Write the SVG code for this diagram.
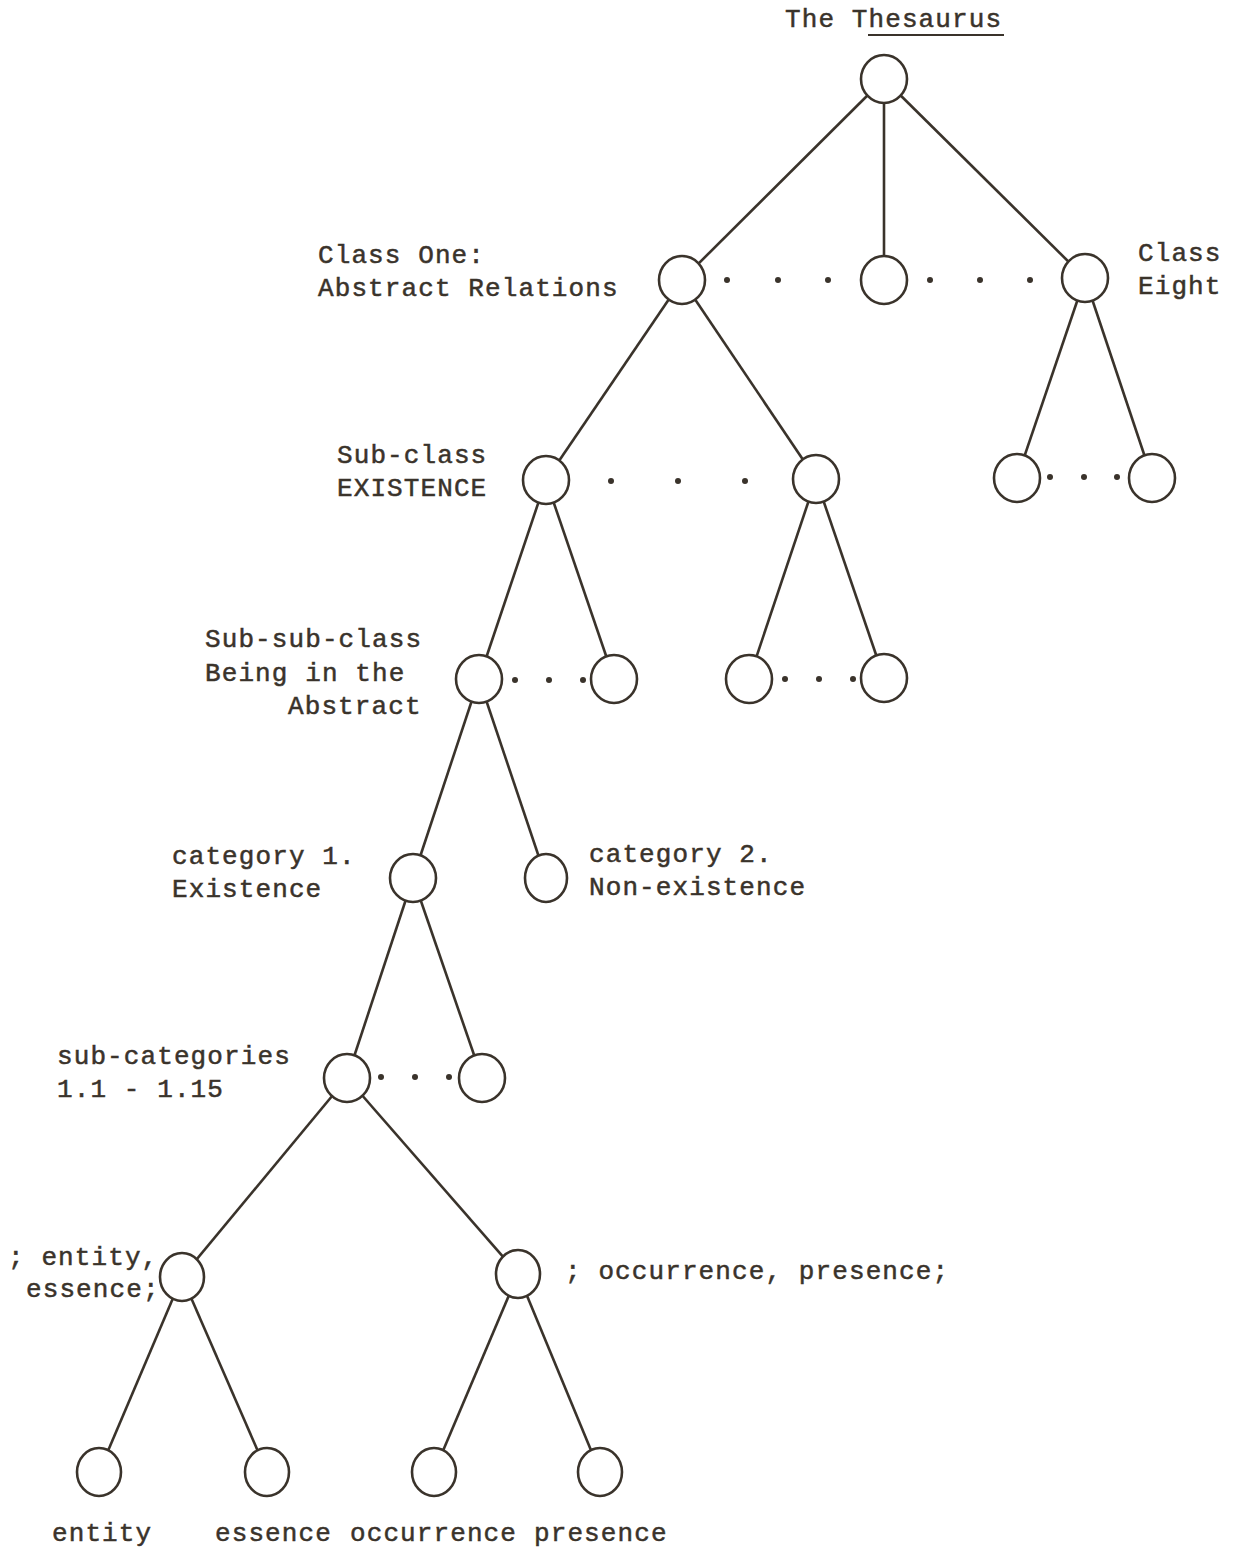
<svg xmlns="http://www.w3.org/2000/svg" width="1235" height="1552" viewBox="0 0 1235 1552">
<style>
.bg{fill:#ffffff}
.edge{stroke:#3a332b;stroke-width:2.6;fill:none}
.node{fill:#ffffff;stroke:#3a332b;stroke-width:2.6}
.dot{fill:#3a332b}
.t{font-family:"Liberation Mono","DejaVu Sans Mono",monospace;font-size:26px;letter-spacing:1.1px;fill:#3a332b;stroke:#3a332b;stroke-width:0.5}
.ul{stroke:#3a332b;stroke-width:2}
</style>
<rect class="bg" x="0" y="0" width="1235" height="1552"/>
<g id="title">
<text class="t" x="785" y="27">The Thesaurus</text>
<line class="ul" x1="868" y1="35" x2="1004" y2="35"/>
</g>
<g id="connectors">
<line class="edge" x1="884" y1="79" x2="682" y2="280"/>
<line class="edge" x1="884" y1="79" x2="884" y2="280"/>
<line class="edge" x1="884" y1="79" x2="1085" y2="278"/>
<line class="edge" x1="682" y1="280" x2="546" y2="480"/>
<line class="edge" x1="682" y1="280" x2="816" y2="479"/>
<line class="edge" x1="1085" y1="278" x2="1017" y2="478"/>
<line class="edge" x1="1085" y1="278" x2="1152" y2="478"/>
<line class="edge" x1="546" y1="480" x2="479" y2="679"/>
<line class="edge" x1="546" y1="480" x2="614" y2="679"/>
<line class="edge" x1="816" y1="479" x2="749" y2="679"/>
<line class="edge" x1="816" y1="479" x2="884" y2="678"/>
<line class="edge" x1="479" y1="679" x2="413" y2="878"/>
<line class="edge" x1="479" y1="679" x2="546" y2="878"/>
<line class="edge" x1="413" y1="878" x2="347" y2="1078"/>
<line class="edge" x1="413" y1="878" x2="482" y2="1078"/>
<line class="edge" x1="347" y1="1078" x2="182" y2="1277"/>
<line class="edge" x1="347" y1="1078" x2="518" y2="1274"/>
<line class="edge" x1="182" y1="1277" x2="99" y2="1472"/>
<line class="edge" x1="182" y1="1277" x2="267" y2="1472"/>
<line class="edge" x1="518" y1="1274" x2="434" y2="1472"/>
<line class="edge" x1="518" y1="1274" x2="600" y2="1472"/>
</g>
<g id="ellipsis-dots">
<circle class="dot" cx="727" cy="280" r="3"/><circle class="dot" cx="778" cy="280" r="3"/><circle class="dot" cx="828" cy="280" r="3"/>
<circle class="dot" cx="930" cy="280" r="3"/><circle class="dot" cx="980" cy="280" r="3"/><circle class="dot" cx="1030" cy="280" r="3"/>
<circle class="dot" cx="611" cy="481" r="3"/><circle class="dot" cx="678" cy="481" r="3"/><circle class="dot" cx="745" cy="481" r="3"/>
<circle class="dot" cx="1050" cy="477" r="3"/><circle class="dot" cx="1084" cy="477" r="3"/><circle class="dot" cx="1117" cy="477" r="3"/>
<circle class="dot" cx="515" cy="680" r="3"/><circle class="dot" cx="549" cy="680" r="3"/><circle class="dot" cx="583" cy="680" r="3"/>
<circle class="dot" cx="785" cy="679" r="3"/><circle class="dot" cx="819" cy="679" r="3"/><circle class="dot" cx="853" cy="679" r="3"/>
<circle class="dot" cx="381" cy="1077" r="3"/><circle class="dot" cx="415" cy="1077" r="3"/><circle class="dot" cx="449" cy="1077" r="3"/>
</g>
<g id="n-root"><ellipse class="node" cx="884" cy="79" rx="23" ry="24"/></g>
<g id="n-class-one">
<ellipse class="node" cx="682" cy="280" rx="23" ry="24"/>
<text class="t" x="318" y="263">Class One:</text>
<text class="t" x="318" y="296">Abstract Relations</text>
</g>
<g id="n-class-mid"><ellipse class="node" cx="884" cy="280" rx="23" ry="24"/></g>
<g id="n-class-eight">
<ellipse class="node" cx="1085" cy="278" rx="23" ry="24"/>
<text class="t" x="1138" y="261">Class</text>
<text class="t" x="1138" y="294">Eight</text>
</g>
<g id="n-subclass-existence">
<ellipse class="node" cx="546" cy="480" rx="23" ry="24"/>
<text class="t" x="337" y="463">Sub-class</text>
<text class="t" x="337" y="496">EXISTENCE</text>
</g>
<g id="n-subclass-other"><ellipse class="node" cx="816" cy="479" rx="23" ry="24"/></g>
<g id="n-eight-a"><ellipse class="node" cx="1017" cy="478" rx="23" ry="24"/></g>
<g id="n-eight-b"><ellipse class="node" cx="1152" cy="478" rx="23" ry="24"/></g>
<g id="n-subsub-abstract">
<ellipse class="node" cx="479" cy="679" rx="23" ry="24"/>
<text class="t" x="205" y="647">Sub-sub-class</text>
<text class="t" x="205" y="681">Being in the</text>
<text class="t" x="288" y="714">Abstract</text>
</g>
<g id="n-subsub-b"><ellipse class="node" cx="614" cy="679" rx="23" ry="24"/></g>
<g id="n-subsub-c"><ellipse class="node" cx="749" cy="679" rx="23" ry="24"/></g>
<g id="n-subsub-d"><ellipse class="node" cx="884" cy="678" rx="23" ry="24"/></g>
<g id="n-category-1">
<ellipse class="node" cx="413" cy="878" rx="23" ry="24"/>
<text class="t" x="172" y="864">category 1.</text>
<text class="t" x="172" y="897">Existence</text>
</g>
<g id="n-category-2">
<ellipse class="node" cx="546" cy="878" rx="21" ry="24"/>
<text class="t" x="589" y="862">category 2.</text>
<text class="t" x="589" y="895">Non-existence</text>
</g>
<g id="n-subcategories">
<ellipse class="node" cx="347" cy="1078" rx="23" ry="24"/>
<text class="t" x="57" y="1064">sub-categories</text>
<text class="t" x="57" y="1097">1.1 - 1.15</text>
</g>
<g id="n-subcat-last"><ellipse class="node" cx="482" cy="1078" rx="23" ry="24"/></g>
<g id="n-entity-essence">
<ellipse class="node" cx="182" cy="1277" rx="22" ry="24"/>
<text class="t" x="8" y="1265">; entity,</text>
<text class="t" x="26" y="1297">essence;</text>
</g>
<g id="n-occurrence-presence">
<ellipse class="node" cx="518" cy="1274" rx="22" ry="24"/>
<text class="t" x="565" y="1279">; occurrence, presence;</text>
</g>
<g id="n-entity">
<ellipse class="node" cx="99" cy="1472" rx="22" ry="24"/>
<text class="t" x="52" y="1541">entity</text>
</g>
<g id="n-essence">
<ellipse class="node" cx="267" cy="1472" rx="22" ry="24"/>
<text class="t" x="215" y="1541">essence</text>
</g>
<g id="n-occurrence">
<ellipse class="node" cx="434" cy="1472" rx="22" ry="24"/>
<text class="t" x="350" y="1541">occurrence</text>
</g>
<g id="n-presence">
<ellipse class="node" cx="600" cy="1472" rx="22" ry="24"/>
<text class="t" x="534" y="1541">presence</text>
</g>
</svg>
